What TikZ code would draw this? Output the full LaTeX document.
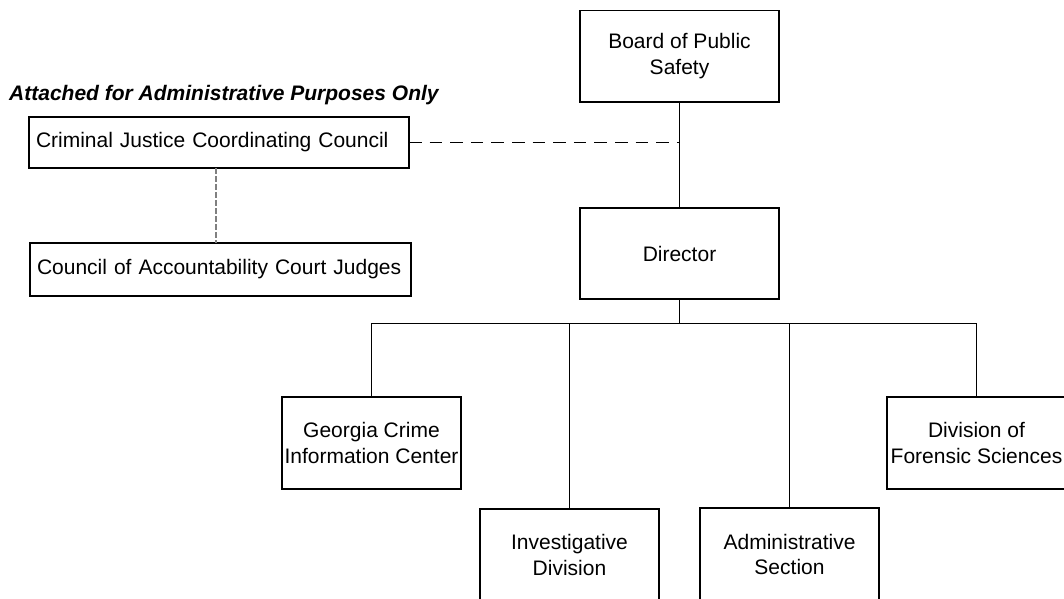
\documentclass[tikz,border=0pt]{standalone}
\usepackage{fontspec}
\setmainfont{Liberation Sans}
\begin{document}
\begin{tikzpicture}[x=1pt,y=-1pt,
  box/.style={draw=black, line width=1.9pt, fill=white, inner sep=0pt, outer sep=0pt,
    align=center, anchor=north west, font=\fontsize{21}{25.5}\selectfont},
  leftbox/.style={box, align=left, inner xsep=7pt},
  link/.style={draw=black, line width=1.8pt, line join=miter},
  dashlink/.style={draw=black, line width=1.8pt, dash pattern=on 12.6pt off 8pt},
  graylink/.style={draw=black!50, line width=1.4pt, dash pattern=on 5.5pt off 2.5pt},
  heading/.style={inner sep=0pt, anchor=west, font=\fontsize{21}{25.5}\selectfont\bfseries\itshape}]
\clip (0,0) rectangle (1064,598);
\fill[white] (0,0) rectangle (1064,598);

\node[box, minimum width=199pt, minimum height=91.5pt] (board) at (580,10.5) {Board of Public\\Safety};
\node[box, minimum width=199pt, minimum height=91pt] (director) at (580,208) {Director};
\node[box, minimum width=179pt, minimum height=92pt] (georgia) at (282,397) {Georgia Crime\\Information Center};
\node[box, minimum width=179pt, minimum height=92pt] (inv) at (480,509) {Investigative\\Division};
\node[box, minimum width=179pt, minimum height=93pt] (admin) at (700,508) {Administrative\\Section};
\node[box, minimum width=179pt, minimum height=92pt] (forensic) at (887,397) {Division of\\Forensic Sciences};

\node[heading] (att) at (9,95) {Attached for Administrative Purposes Only};
\node[leftbox, text width=366pt, minimum height=51pt] (cjcc) at (29,117) {Criminal Justice Coordinating Council};
\node[leftbox, text width=367pt, minimum height=53pt] (cacj) at (30,243) {Council of Accountability Court Judges};

\draw[link] (board.south) -- (director.north);
\path (director.south) ++(0,24.5) coordinate (bus);
\draw[link] (director.south) -- (bus);
\draw[link] (georgia.north) |- (forensic.north |- bus) -- (forensic.north);
\draw[link] (inv.north) -- (inv.north |- bus);
\draw[link] (admin.north) -- (admin.north |- bus);

\draw[dashlink] (cjcc.east) -- (cjcc.east -| board.south);
\draw[graylink] ([xshift=-3pt]cjcc.south) -- ([xshift=-3pt]cjcc.south |- cacj.north);
\end{tikzpicture}
\end{document}
